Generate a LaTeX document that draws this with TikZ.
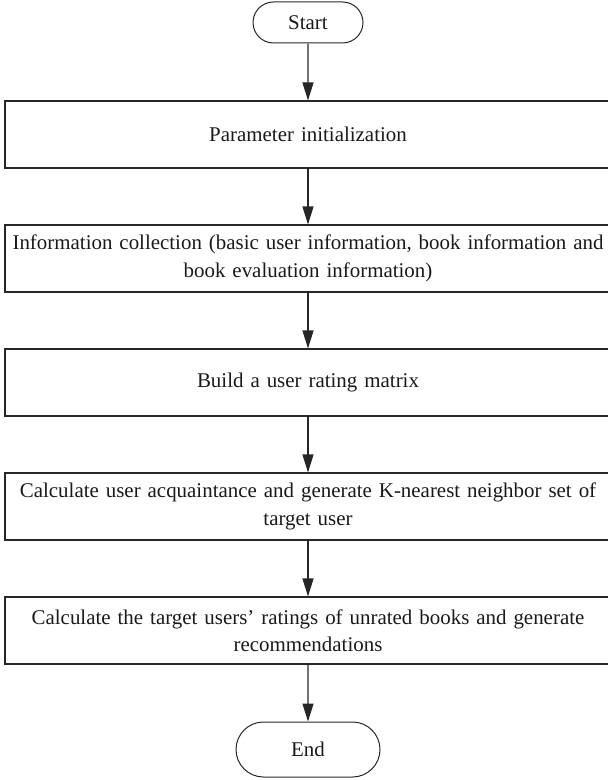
\documentclass[tikz,border=0pt]{standalone}
\usepackage{fontspec}
\setmainfont{Liberation Serif}
\usetikzlibrary{arrows.meta,shapes.misc}
\begin{document}
\begin{tikzpicture}[x=1bp,y=-1bp,
  every node/.style={font=\fontsize{21}{27.5}\selectfont, text=black!90},
  procbox/.style={draw=black!85, line width=1.1bp, minimum width=606bp, minimum height=67bp,
    inner sep=0pt, align=center, text width=606bp},
  terminal/.style={draw=black!85, line width=1bp, rounded rectangle, inner sep=0pt},
  flow/.style={draw=black!85, line width=1.1bp, -{Triangle[length=18bp,width=11bp]}}]
\useasboundingbox (0,0) rectangle (608,780);
\node[terminal, minimum width=110bp, minimum height=41bp] (start) at (308,22.5) {Start};
\node[procbox] (b1) at (308,134.5) {Parameter initialization};
\node[procbox] (b2) at (308,258.5) {Information collection (basic user information, book information and\\ book evaluation information)};
\node[procbox] (b3) at (308,382.5) {Build a user rating matrix};
\node[procbox] (b4) at (308,506.5) {Calculate user acquaintance and generate K-nearest neighbor set of\\ target user};
\node[procbox] (b5) at (308,630.5) {Calculate the target users’ ratings of unrated books and generate\\ recommendations};
\node[terminal, minimum width=144bp, minimum height=55bp] (end) at (308,749.5) {End};
\draw[flow] (start) -- (b1);
\draw[flow] (b1) -- (b2);
\draw[flow] (b2) -- (b3);
\draw[flow] (b3) -- (b4);
\draw[flow] (b4) -- (b5);
\draw[flow] (b5) -- (end);
\end{tikzpicture}
\end{document}
